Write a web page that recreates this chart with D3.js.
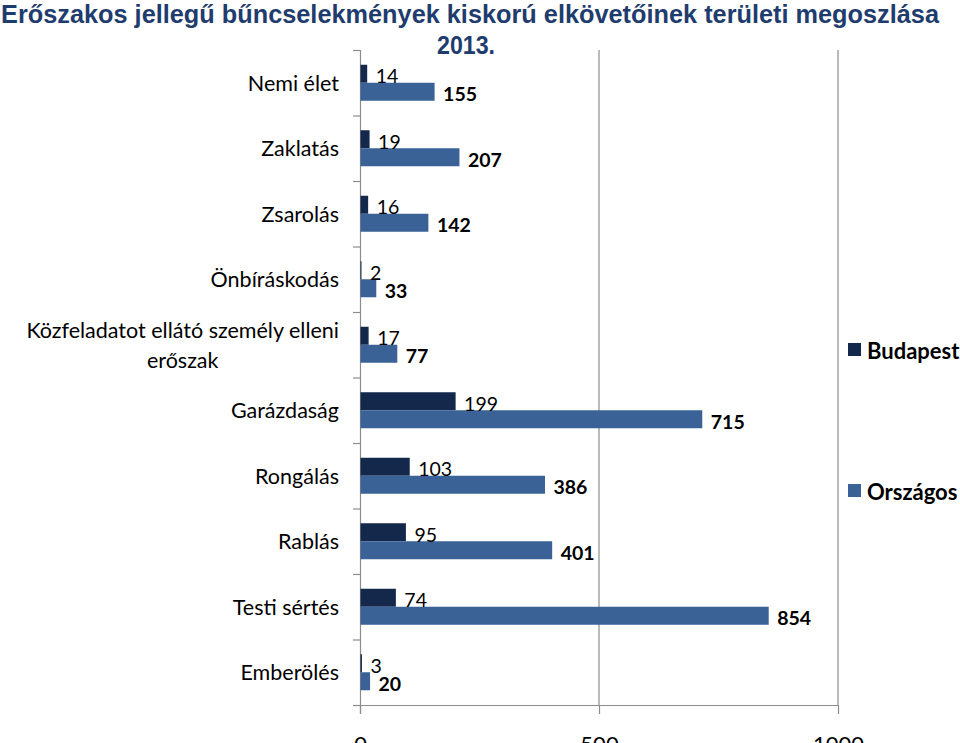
<!DOCTYPE html>
<meta charset="utf-8">
<style>
body { margin: 0; background: #fff; }
svg { display: block; }
.title { font-family: "Liberation Sans", Arial, sans-serif; font-weight: bold; fill: #1f3c6e; }
.cat { font-family: Lato, "Open Sans", sans-serif; font-size: 21.5px; fill: #000; }
.val { font-family: Lato, "Open Sans", sans-serif; font-size: 19.5px; fill: #000; }
.leg { font-family: Lato, "Open Sans", sans-serif; font-size: 22px; font-weight: bold; fill: #000; }
.tick text { font-family: Lato, "Open Sans", sans-serif; font-size: 22px; fill: #000; }
</style>
<body>
<svg width="960" height="743"></svg>
</body>
<script src="https://d3js.org/d3.v7.min.js"></script>
<script>
var categories = ["Nemi élet", "Zaklatás", "Zsarolás", "Önbíráskodás",
  "Közfeladatot ellátó személy elleni erőszak", "Garázdaság", "Rongálás",
  "Rablás", "Testi sértés", "Emberölés"];
var budapest = [14, 19, 16, 2, 17, 199, 103, 95, 74, 3];
var orszagos = [155, 207, 142, 33, 77, 715, 386, 401, 854, 20];
var seriesNames = ["Budapest", "Országos"];
var xTicks = [0, 500, 1000];
var titleLines = ["Erőszakos jellegű bűncselekmények kiskorú elkövetőinek területi megoszlása", "2013."];

var colors = ["#14284b", "#3a6297"];

var svg = d3.select("svg");

// title (condensed to fit the width like the original)
svg.append("text").attr("class", "title")
    .attr("x", 470).attr("y", 23)
    .attr("text-anchor", "middle")
    .attr("font-size", 25)
    .attr("textLength", 938).attr("lengthAdjust", "spacingAndGlyphs")
    .text(titleLines[0]);
svg.append("text").attr("class", "title")
    .attr("x", 466).attr("y", 54)
    .attr("text-anchor", "middle")
    .attr("font-size", 25)
    .attr("textLength", 58).attr("lengthAdjust", "spacingAndGlyphs")
    .text(titleLines[1]);

var x = d3.scaleLinear().domain([0, 1000]).range([360, 838]);
var y = d3.scaleBand().domain(categories).range([50, 705]);
var barH = 18;

// gridlines
svg.append("g").selectAll("line")
  .data(xTicks.slice(1))
  .enter().append("line")
    .attr("x1", function(d) { return x(d); })
    .attr("x2", function(d) { return x(d); })
    .attr("y1", 50).attr("y2", 705)
    .attr("stroke", "#8c8c8c").attr("stroke-width", 1.2);

// x axis
var xAxis = svg.append("g")
    .attr("transform", "translate(0,705)")
    .call(d3.axisBottom(x).tickValues(xTicks).tickFormat(d3.format("d"))
      .tickSize(9).tickPadding(18).tickSizeOuter(0));
xAxis.select(".domain").attr("stroke", "#8c8c8c").attr("stroke-width", 1.2)
    .attr("d", "M353,0.5H" + x(1000));
xAxis.selectAll(".tick line").attr("stroke", "#8c8c8c").attr("stroke-width", 1.2);
xAxis.selectAll(".tick text").attr("dy", "0.9em");

// y axis line and ticks
svg.append("line")
    .attr("x1", 360.5).attr("x2", 360.5).attr("y1", 50).attr("y2", 714)
    .attr("stroke", "#8c8c8c").attr("stroke-width", 1.2);
var bounds = categories.map(function(c) { return y(c); }).concat([705]);
svg.append("g").selectAll("line")
  .data(bounds)
  .enter().append("line")
    .attr("x1", 353).attr("x2", 360)
    .attr("y1", function(d) { return d + 0.5; })
    .attr("y2", function(d) { return d + 0.5; })
    .attr("stroke", "#8c8c8c").attr("stroke-width", 1.2);

// bars
var data = categories.map(function(c, i) { return [budapest[i], orszagos[i]]; });
var groups = svg.append("g").selectAll("g")
  .data(data)
  .enter().append("g")
    .attr("transform", function(d, i) {
      return "translate(0," + (y(categories[i]) + y.bandwidth() / 2 - barH) + ")";
    });

groups.selectAll("rect")
  .data(function(d) { return d; })
  .enter().append("rect")
    .attr("x", x(0) + 0.5)
    .attr("y", function(d, j) { return j * barH; })
    .attr("width", function(d) { return x(d) - x(0); })
    .attr("height", barH)
    .attr("fill", function(d, j) { return colors[j]; });

groups.selectAll("text")
  .data(function(d) { return d; })
  .enter().append("text")
    .attr("class", "val")
    .attr("x", function(d) { return x(d) + 9; })
    .attr("y", function(d, j) { return j * barH + barH / 2 + 2; })
    .attr("dominant-baseline", "central")
    .attr("font-weight", function(d, j) { return j === 1 ? "bold" : "normal"; })
    .text(function(d) { return d; });

// category labels (wrapped)
var catG = svg.append("g");
categories.forEach(function(c) {
  var cy = y(c) + y.bandwidth() / 2;
  var t = catG.append("text").attr("class", "cat").attr("text-anchor", "end")
      .attr("x", 339).attr("y", cy).attr("dominant-baseline", "central").text(c);
  if (t.node().getComputedTextLength() > 330) {
    t.remove();
    var words = c.split(" ");
    var first = words.slice(0, -1).join(" "), last = words[words.length - 1];
    var t1 = catG.append("text").attr("class", "cat").attr("text-anchor", "end")
        .attr("x", 339).attr("y", cy - 15).attr("dominant-baseline", "central").text(first);
    var w = t1.node().getComputedTextLength();
    catG.append("text").attr("class", "cat").attr("text-anchor", "middle")
        .attr("x", 339 - w / 2).attr("y", cy + 15).attr("dominant-baseline", "central").text(last);
  }
});

// legend
var leg = svg.append("g").selectAll("g")
  .data(seriesNames)
  .enter().append("g")
    .attr("transform", function(d, i) { return "translate(848," + (343 + i * 141) + ")"; });
leg.append("rect").attr("width", 13).attr("height", 13)
    .attr("fill", function(d, i) { return colors[i]; });
leg.append("text").attr("class", "leg")
    .attr("x", 19).attr("y", 7).attr("dominant-baseline", "central")
    .text(function(d) { return d; });
</script>
